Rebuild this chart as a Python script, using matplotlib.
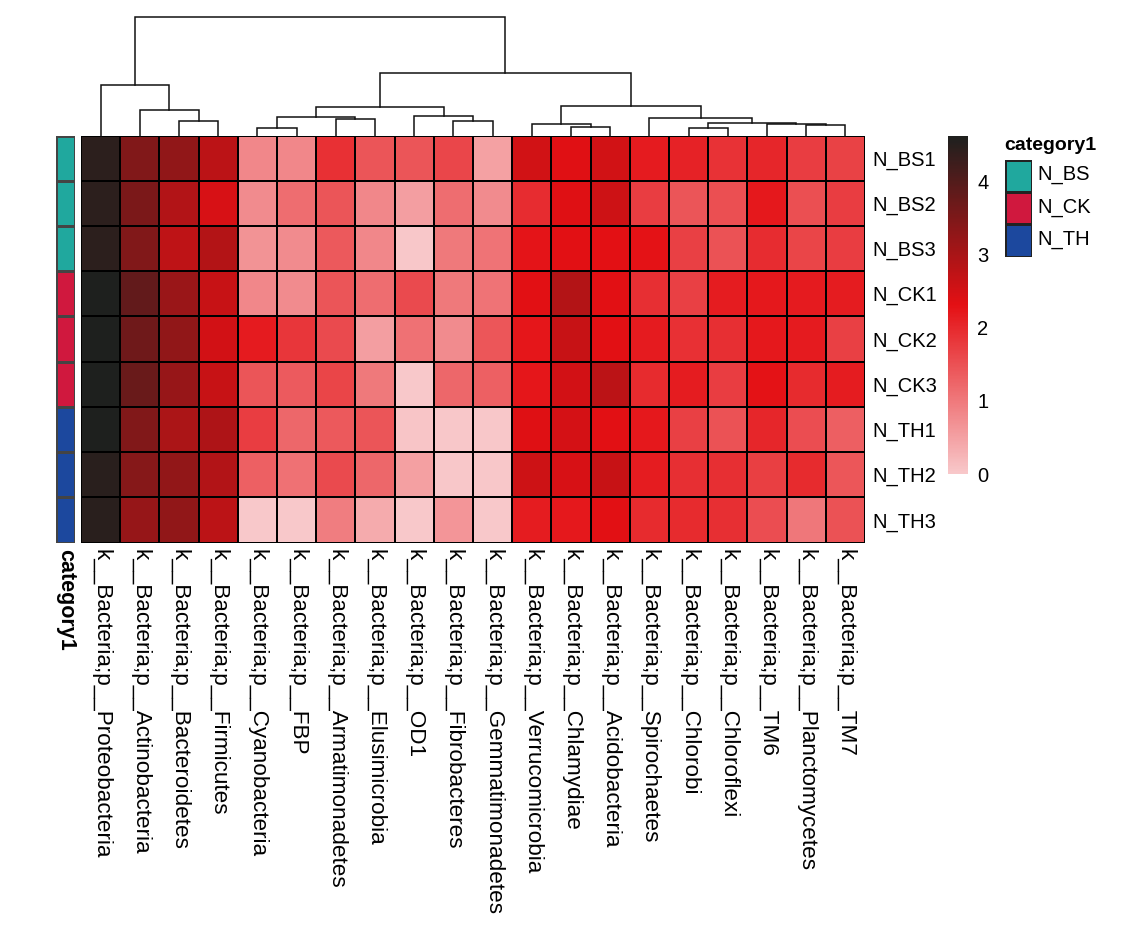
import numpy as np
import matplotlib
matplotlib.use("Agg")
import matplotlib.pyplot as plt
from matplotlib.colors import LinearSegmentedColormap, ListedColormap, Normalize
from matplotlib.cm import ScalarMappable

plt.rcParams['font.family'] = ['Liberation Sans', 'DejaVu Sans']

# samples (rows) and their group
samples = ['N_BS1', 'N_BS2', 'N_BS3', 'N_CK1', 'N_CK2', 'N_CK3', 'N_TH1', 'N_TH2', 'N_TH3']
sample_group = [0, 0, 0, 1, 1, 1, 2, 2, 2]
group_names = ['N_BS', 'N_CK', 'N_TH']
group_colors = ['#20A89E', '#D0183E', '#1C489E']

# phyla (columns), already in dendrogram order
phyla = ['Proteobacteria', 'Actinobacteria', 'Bacteroidetes', 'Firmicutes', 'Cyanobacteria',
         'FBP', 'Armatimonadetes', 'Elusimicrobia', 'OD1', 'Fibrobacteres', 'Gemmatimonadetes',
         'Verrucomicrobia', 'Chlamydiae', 'Acidobacteria', 'Spirochaetes', 'Chlorobi',
         'Chloroflexi', 'TM6', 'Planctomycetes', 'TM7']
col_labels = ['k__Bacteria;p__' + p for p in phyla]

# log abundance, one row per sample
abundance = [
    [4.45, 3.46, 3.28, 2.78, 0.82, 0.82, 1.90, 1.45, 1.45, 1.63, 0.49, 2.54, 2.36, 2.54, 2.18, 2.08, 1.88, 2.03, 1.75, 1.68],
    [4.45, 3.52, 2.90, 2.46, 0.77, 1.15, 1.45, 0.82, 0.54, 1.15, 0.77, 1.96, 2.38, 2.58, 1.75, 1.45, 1.53, 2.21, 1.53, 1.75],
    [4.45, 3.46, 2.76, 2.87, 0.67, 0.77, 1.40, 0.82, 0.02, 1.00, 1.07, 2.26, 2.33, 2.31, 2.28, 1.70, 1.48, 1.96, 1.65, 1.75],
    [4.62, 3.81, 3.17, 2.64, 0.82, 0.77, 1.45, 1.15, 1.58, 1.00, 1.07, 2.33, 2.87, 2.33, 1.93, 1.70, 2.16, 2.21, 2.18, 2.16],
    [4.62, 3.67, 3.28, 2.52, 2.18, 1.83, 1.58, 0.54, 1.10, 0.77, 1.43, 2.23, 2.64, 2.33, 2.18, 1.91, 1.93, 2.21, 2.18, 1.70],
    [4.62, 3.75, 3.20, 2.64, 1.45, 1.38, 1.65, 1.00, 0.01, 1.22, 1.30, 2.23, 2.52, 2.78, 1.98, 2.16, 1.75, 2.28, 1.98, 2.16],
    [4.62, 3.46, 2.97, 2.93, 1.75, 1.22, 1.40, 1.45, 0.04, 0.02, 0.02, 2.38, 2.50, 2.33, 2.21, 1.70, 1.48, 2.03, 1.55, 1.33],
    [4.49, 3.40, 3.25, 2.90, 1.30, 1.10, 1.58, 1.22, 0.52, 0.02, 0.02, 2.58, 2.46, 2.64, 2.16, 1.93, 1.93, 1.73, 1.98, 1.43],
    [4.49, 3.22, 3.28, 2.78, 0.00, 0.01, 0.95, 0.37, 0.01, 0.64, 0.01, 2.16, 2.21, 2.33, 1.98, 1.98, 1.93, 1.55, 1.02, 1.48],
]

# column clustering: leaves 0..19, new nodes numbered from 20
merge_left = [2, 1, 0, 4, 6, 23, 9, 8, 25, 12, 11, 15, 18, 17, 31, 14, 30, 28, 22]
merge_right = [3, 20, 21, 5, 7, 24, 10, 26, 27, 13, 29, 16, 19, 32, 33, 34, 35, 36, 37]
merge_height = [14.4, 26.0, 50.7, 7.7, 16.3, 18.7, 14.7, 20.0, 28.4, 8.7, 11.4, 7.5, 10.8, 11.5,
                12.8, 17.5, 29.5, 63.0, 119.0]

cb_ticks = [0, 1, 2, 3, 4]


def draw_dendrogram(ax, left, right, height, n_leaves):
    pos = {i: i + 0.5 for i in range(n_leaves)}
    hgt = {i: 0.0 for i in range(n_leaves)}
    for k, (a, b, h) in enumerate(zip(left, right, height)):
        xa, xb = pos[a], pos[b]
        ax.plot([xa, xa, xb, xb], [hgt[a], h, h, hgt[b]], color='#111111', lw=1.1,
                solid_joinstyle='miter', clip_on=False)
        pos[n_leaves + k] = (xa + xb) / 2
        hgt[n_leaves + k] = h


W, H = 1121, 936
fig = plt.figure(figsize=(W / 100, H / 100), dpi=100)


def box(x0, y0, x1, y1):
    # pixel box (top-left origin) -> figure fraction rect
    return [x0 / W, 1 - y1 / H, (x1 - x0) / W, (y1 - y0) / H]


data = np.array(abundance)
n_rows, n_cols = data.shape
cmap = LinearSegmentedColormap.from_list('pinkred', ['#F8C8CA', '#E41014', '#1E201E'])
norm = Normalize(vmin=data.min(), vmax=data.max())

# heatmap
ax = fig.add_axes(box(81, 135.5, 865, 542.5))
ax.pcolormesh(data, cmap=cmap, norm=norm, edgecolors='black', linewidth=1.2)
ax.set_xlim(0, n_cols)
ax.set_ylim(n_rows, 0)
for s in ax.spines.values():
    s.set_visible(False)
ax.set_xticks(np.arange(n_cols) + 0.5)
ax.set_xticklabels(col_labels, rotation=270, fontsize=16.2)
ax.set_yticks(np.arange(n_rows) + 0.5)
ax.set_yticklabels(samples, fontsize=14.5)
ax.yaxis.tick_right()
ax.tick_params(length=0)
ax.tick_params(axis='x', pad=5)
ax.tick_params(axis='y', pad=5)

# top dendrogram
axd = fig.add_axes(box(81, 17, 865, 135.5))
draw_dendrogram(axd, merge_left, merge_right, merge_height, n_cols)
axd.set_xlim(0, n_cols)
axd.set_ylim(0, max(merge_height))
axd.axis('off')

# annotation column
axa = fig.add_axes(box(55.5, 135.5, 75, 542.5))
axa.pcolormesh(np.array(sample_group).reshape(-1, 1), cmap=ListedColormap(group_colors),
               vmin=-0.5, vmax=2.5, edgecolors='#444444', linewidth=1.0)
axa.set_ylim(n_rows, 0)
for s in axa.spines.values():
    s.set_visible(False)
axa.set_yticks([])
axa.set_xticks([0.5])
axa.set_xticklabels(['category1'], rotation=270, fontsize=15.5, fontweight='bold')
axa.tick_params(length=0, pad=5)

# colour bar
cax = fig.add_axes(box(948, 136, 967.5, 474))
cb = fig.colorbar(ScalarMappable(norm=norm, cmap=cmap), cax=cax, ticks=cb_ticks)
cb.outline.set_visible(False)
cax.tick_params(length=0, labelsize=14.5, pad=7)

# group legend
axl = fig.add_axes(box(1005, 160, 1032, 256.5))
axl.pcolormesh(np.arange(len(group_names)).reshape(-1, 1), cmap=ListedColormap(group_colors),
               vmin=-0.5, vmax=2.5, edgecolors='#222222', linewidth=1.0)
axl.set_ylim(len(group_names), 0)
axl.set_xticks([])
axl.set_yticks(np.arange(len(group_names)) + 0.4)
axl.set_yticklabels(group_names, fontsize=14.5)
axl.yaxis.tick_right()
axl.tick_params(length=0, pad=4)
for s in axl.spines.values():
    s.set_visible(False)
fig.text(1004 / W, 1 - 145 / H, 'category1', fontsize=14, fontweight='bold', ha='left', va='center')

fig.savefig('out.png', dpi=100)
